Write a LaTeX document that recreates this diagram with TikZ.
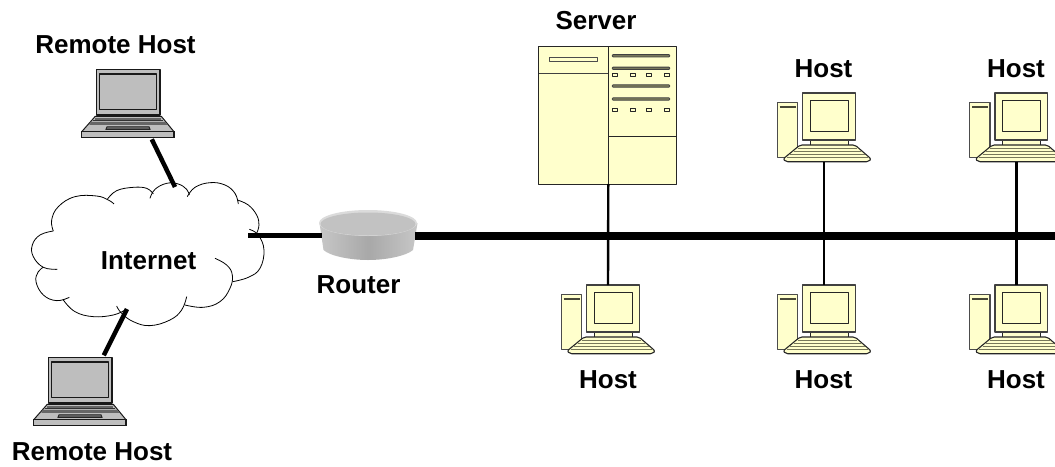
\documentclass[tikz,border=0pt]{standalone}
\usepackage{fontspec}
\setmainfont{Liberation Sans}
\usetikzlibrary{calc}
\definecolor{paleyellow}{HTML}{FFFFCC}
\definecolor{olivebar}{HTML}{77775A}
\definecolor{lapgray}{HTML}{BEBEBE}
\definecolor{lapdark}{HTML}{666666}
\tikzset{
  lbl/.style={font=\fontsize{26}{26}\selectfont\bfseries,anchor=base,inner sep=0pt},
  edge/.style={draw=black!85,line width=1pt,line join=round},
  pcfill/.style={edge,fill=paleyellow},
  lapfill/.style={draw=black!90,line width=1.2pt,fill=lapgray,line join=round},
  wan/.style={line width=4.5pt,black},
  trunk/.style={line width=8pt,black},
  drop/.style={line width=2.4pt,black},
  lobe/.style={black,line width=0.8pt},
  pics/hostpc/.style={code={
    \path[pcfill,line width=1.2pt,draw=black!70] (-25.4,9.3) rectangle (-5,64.3);
    \draw[olivebar!60!black,line width=1.6pt] (-23,13.7) -- (-7,13.7);
    \path[pcfill] (7.5,47) rectangle (45.3,53);
    \path[pcfill,draw=black!75,line width=1.2pt] (0,0) rectangle (52.6,47);
    \path[pcfill] (7.6,7.3) rectangle (45.3,38.7);
    \path[pcfill,rounded corners=2pt,line width=1.1pt] (-2.7,52) -- (52.3,52) -- (68.5,66) -- (66,68.7) -- (-17,68.7) -- (-19.6,66) -- cycle;
    \foreach \yy/\ix in {55/-5,58.2/-9,61.4/-12.5,64.6/-16}{
      \draw[olivebar,line width=1pt] (\ix,\yy) -- ($(49.6,0)-(\ix,0)+(0,\yy)$);
    }
    \coordinate (-top) at (21.3,0);
    \coordinate (-bot) at (21.3,68.7);
  }},
  pics/laptop/.style={code={
    \path[lapfill] (0,0) rectangle (63.7,45.7);
    \path[lapfill] (3,4.7) rectangle (60.4,40);
    \path[lapfill,line width=1pt] (-1,47) -- (65,47) -- (77.7,62.4) -- (-14.6,62.4) -- cycle;
    \fill[lapdark] (-1,48.5) rectangle (65,51);
    \draw[black!80,line width=.9pt] (-3,51) -- (67,51);
    \fill[lapdark] (-5,52.5) -- (69,52.5) -- (71,55.5) -- (-7,55.5) -- cycle;
    \path[draw=black!85,line width=.9pt,fill=lapdark] (10.7,57.4) -- (52.7,57.4) -- (53.7,60) -- (9.7,60) -- cycle;
    \path[draw=black!90,line width=1.2pt,fill=lapgray] (-14.6,62.4) rectangle (77.7,68);
    \coordinate (-top) at (55.5,0);
    \coordinate (-bot) at (55.5,70);
  }},
}
\begin{document}
\begin{tikzpicture}[x=1pt,y=-1pt]
\clip (0,0) rectangle (1055,466);
\fill[white] (0,0) rectangle (1055,466);

% cloud, traced lobe by lobe
\begin{scope}[shift={(0,170)},x=0.3333pt,y=-0.3333pt]
\foreach \lobepts in {
 {(160,183)(155,150)(175,110)(225,80)(290,78)(325,90)(342,102)},
 {(322,88)(350,62)(400,52)(440,55)(460,72)},
 {(450,85)(465,58)(500,40)(535,42)(560,58)(568,75)},
 {(562,80)(585,52)(630,38)(675,45)(705,70)(715,102)},
 {(712,90)(745,105)(770,135)(777,165)(770,190)},
 {(748,178)(775,195)(792,240)(780,295)(745,322)(698,335)},
 {(645,265)(680,285)(697,315)(690,355)(660,395)(610,412)(555,405)},
 {(560,380)(545,420)(510,450)(450,467)(400,455)(365,430)(350,408)},
 {(375,420)(340,435)(280,440)(225,425)(190,390)},
 {(208,382)(170,392)(130,375)(108,335)(115,305)(130,292)},
 {(172,298)(130,292)(100,260)(97,225)(120,195)(160,183)}}{
  \draw[lobe] plot[smooth,tension=0.7] coordinates \lobepts;
}
\end{scope}
\coordinate (cloudtop) at (175,187);
\coordinate (cloudbot) at (127,309);
\coordinate (cloudright) at (248,235.5);

% router
\coordinate (routerleft) at (322,235.5);
\coordinate (routerright) at (415,235.5);
\path[left color=black!22,right color=black!22,middle color=black!34]
  (319.5,223) -- (323.5,250) .. controls (330,256) and (350,260) .. (368,260)
  .. controls (386,260) and (406,256) .. (413,250) -- (417.5,223) -- cycle;
\fill[black!14] (368,223) ellipse [x radius=49,y radius=13];
\fill[black!24] (368,224) ellipse [x radius=47.5,y radius=11.5];

% server
\path[pcfill] (538.7,46.3) rectangle (676.3,184);
\draw[edge,draw=black!75] (538.7,73.7) -- (608.3,73.7);
\draw[edge,line width=1.1pt] (608.3,46.3) -- (608.3,184);
\draw[edge] (608.3,136.3) -- (676.3,136.3);
\path[pcfill,line width=.9pt,draw=black!70] (549.3,57.3) rectangle (597,61.7);
\foreach \yy in {55.7,68.3,86,99}{
  \path[draw=black!75,fill=olivebar,line width=.8pt,rounded corners=.8pt] (612.3,\yy-1.2) rectangle (669.7,\yy+1.2);
}
\foreach \yy in {75,109.7}{
  \foreach \xx in {615.3,633,649,667}{
    \path[pcfill,line width=.9pt] (\xx-2.5,\yy-1.7) rectangle (\xx+2.5,\yy+1.7);
  }
}
\coordinate (serverbot) at (608.3,184);

% computers and laptops
\pic (h1) at (586.7,285) {hostpc};
\pic (h2) at (802.7,93) {hostpc};
\pic (h3) at (802.7,285) {hostpc};
\pic (h4) at (995,93) {hostpc};
\pic (h5) at (995,285) {hostpc};
\pic (l1) at (96.3,69.3) {laptop};
\pic (l2) at (48.3,357.3) {laptop};

% connectors
\coordinate (busend) at (1055,235.5);
\draw[wan] (l1-bot) -- (cloudtop);
\draw[wan] (l2-top) ++(0,-2) -- (cloudbot);
\draw[line width=5pt] (cloudright) -- (routerleft);
\draw[trunk] (routerright) -- (busend);
\draw[drop] (serverbot) -- (h1-top);
\draw[drop] (h2-bot) -- (h3-top);
\draw[drop] (h4-bot) -- (h5-top);

% labels
\node[lbl] (t1) at (115.5,53) {Remote Host};
\node[lbl] (t2) at (92,460.5) {Remote Host};
\node[lbl] (t3) at (148.5,269.3) {Internet};
\node[lbl] (t4) at (596,29.5) {Server};
\node[lbl] (t5) at (358.5,293.5) {Router};
\node[lbl] (t6) at (823.5,77.5) {Host};
\node[lbl] (t7) at (1016,77.5) {Host};
\node[lbl] (t8) at (608,388) {Host};
\node[lbl] (t9) at (823.5,388) {Host};
\node[lbl] (t10) at (1016,388) {Host};
\end{tikzpicture}
\end{document}
